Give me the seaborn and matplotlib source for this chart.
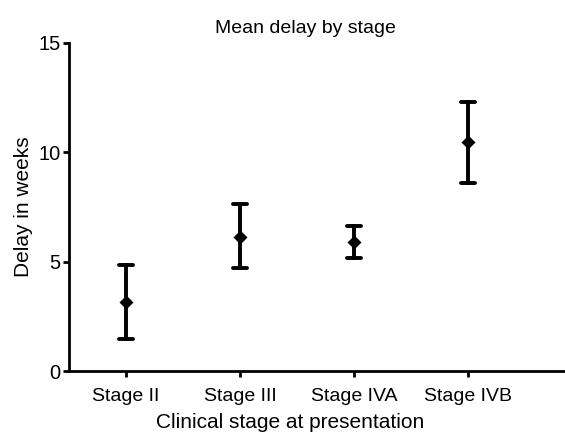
import matplotlib.pyplot as plt
import numpy as np
import pandas as pd
import seaborn as sns

# values (weeks)
stages = ['Stage II', 'Stage III', 'Stage IVA', 'Stage IVB']
mean_delay = [3.15, 6.15, 5.9, 10.45]
lower_ci = [1.45, 4.7, 5.15, 8.6]
upper_ci = [4.85, 7.65, 6.65, 12.3]

# one row per bound and the mean, so median = mean and min/max = interval
df = pd.DataFrame({
    'stage': np.repeat(stages, 3),
    'delay': np.ravel(np.column_stack([lower_ci, mean_delay, upper_ci])),
})

sns.set_style('white')
plt.rcParams['font.family'] = ['Liberation Sans', 'DejaVu Sans']
plt.rcParams['text.color'] = 'black'
plt.rcParams['axes.labelcolor'] = 'black'

fig = plt.figure(figsize=(5.65, 4.34), dpi=100, facecolor='white')
ax = fig.add_axes([0.122, 0.145, 0.878, 0.756])

sns.pointplot(data=df, x='stage', y='delay', order=stages,
              estimator='median', errorbar=('pi', 100),
              color='black', linestyle='none', marker='D', markersize=5,
              capsize=0.12, err_kws={'linewidth': 2.8}, ax=ax)

ax.set_xlim(-0.5, 3.85)
ax.set_ylim(0, 15)
ax.set_yticks([0, 5, 10, 15])
sns.despine(ax=ax)
for s in ['left', 'bottom']:
    ax.spines[s].set_linewidth(2)
    ax.spines[s].set_color('black')
ax.tick_params(axis='both', direction='out', length=4, width=2, color='black',
               labelsize=14, labelcolor='black', bottom=True, left=True)
ax.tick_params(axis='x', pad=8)
ax.tick_params(axis='y', pad=2, labelsize=14.5)

ax.set_title('Mean delay by stage', fontsize=14, x=0.476, pad=7, color='black')
ax.set_xlabel('Clinical stage at presentation', fontsize=15, x=0.446,
              labelpad=6, color='black')
ax.set_ylabel('Delay in weeks', fontsize=15, labelpad=4, color='black')

fig.savefig('out.png', dpi=100, facecolor='white')
